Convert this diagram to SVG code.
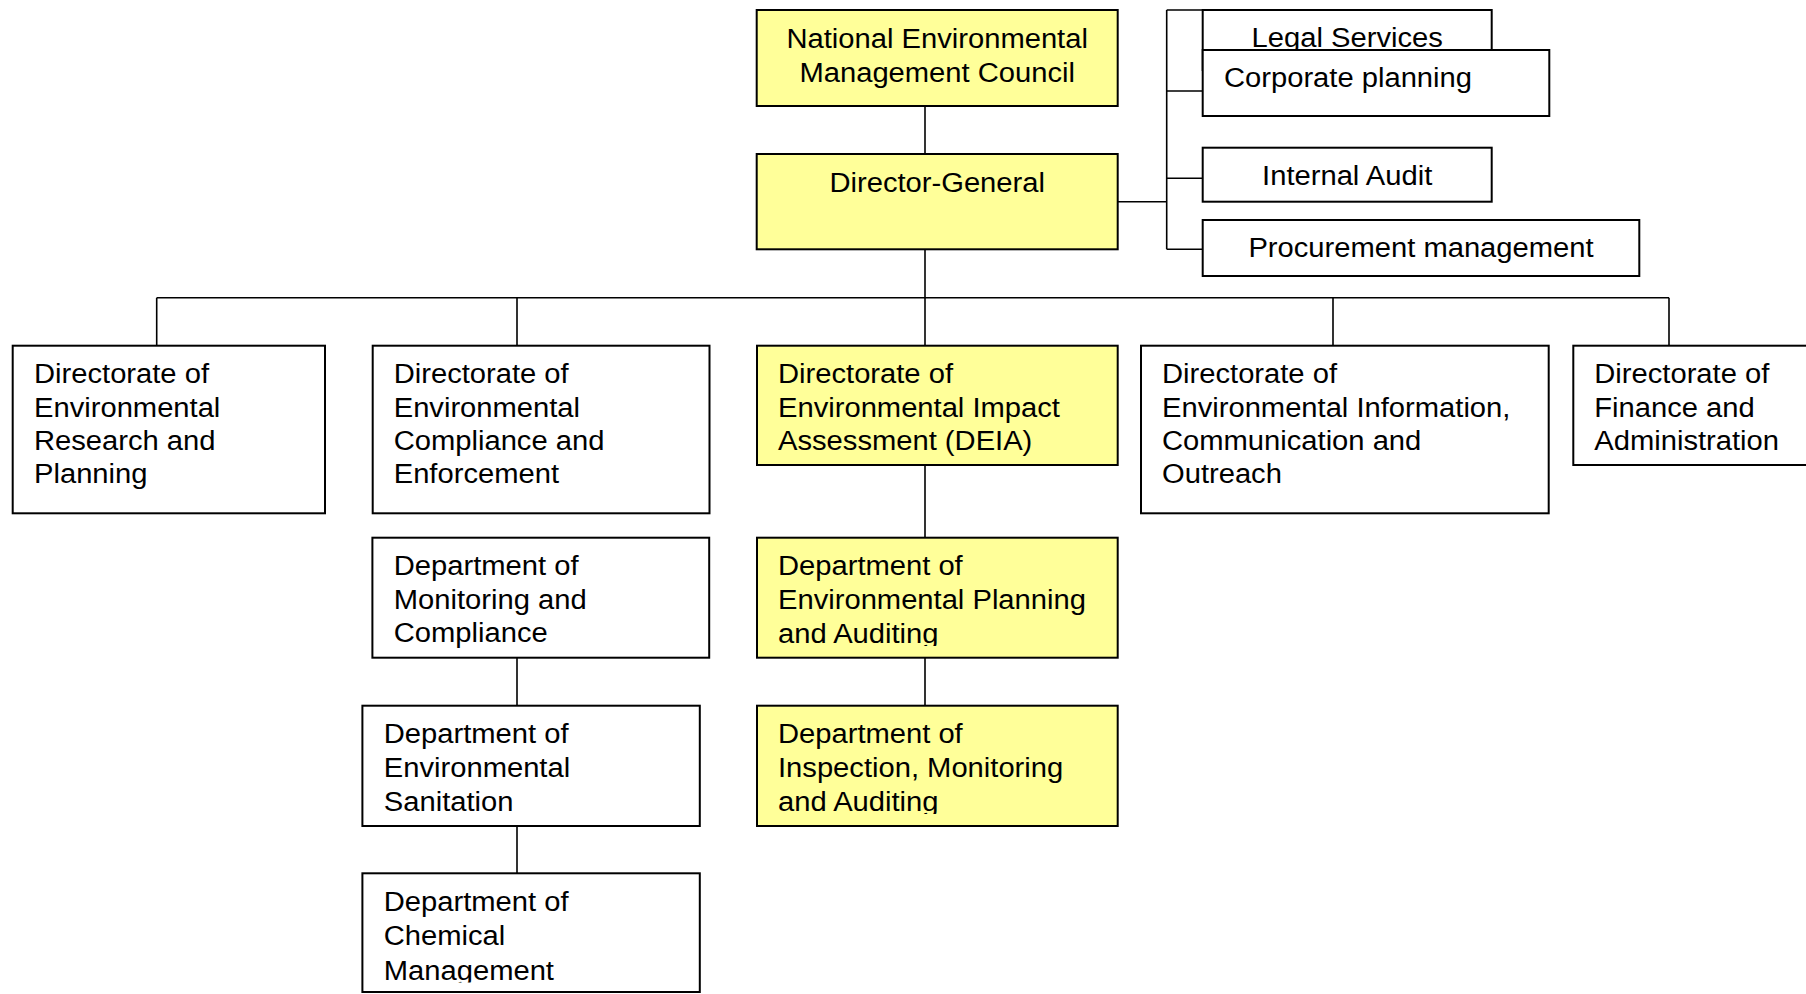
<svg xmlns="http://www.w3.org/2000/svg" width="1806" height="994" viewBox="0 0 1806 994">
  <style>
    .box { fill: #ffffff; stroke: #000000; stroke-width: 2; }
    .hi { fill: #ffff99; stroke: #000000; stroke-width: 2; }
    .lbl { font-family: "Liberation Sans", Arial, sans-serif; font-size: 27px; fill: #000000; }
    .mid { text-anchor: middle; }
    .wire { fill: none; stroke: #000000; stroke-width: 1.6; }
  </style>
  <defs>
    <clipPath id="clipPlan"><rect x="757" y="537" width="361" height="109"/></clipPath>
    <clipPath id="clipInsp"><rect x="757" y="705" width="361" height="109"/></clipPath>
    <clipPath id="clipChem"><rect x="361" y="873" width="340" height="109.5"/></clipPath>
  </defs>
  <rect x="0" y="0" width="1806" height="994" fill="#ffffff"/>

  <!-- connectors -->
  <g id="connectors" class="wire">
    <path d="M925 106 V154"/>
    <path d="M925 249 V346"/>
    <path d="M156.7 297.7 H1669"/>
    <path d="M156.7 297.7 V346 M517 297.7 V346 M1333 297.7 V346 M1669 297.7 V346"/>
    <path d="M1117.7 201.7 H1166.7 M1166.7 10 V249.3"/>
    <path d="M1166.7 10 H1202.7 M1166.7 91 H1202.7 M1166.7 178.3 H1202.7 M1166.7 249.3 H1202.7"/>
    <path d="M925 465 V537.7 M925 657.7 V705.7"/>
    <path d="M517 657.7 V705.7 M517 826 V873.3"/>
  </g>

  <!-- top of the hierarchy -->
  <g id="council">
    <rect class="hi" x="756.7" y="10" width="361" height="96"/>
    <text class="lbl mid" transform="translate(937.2,47.7) scale(1.08,1)"><tspan x="0">National Environmental</tspan><tspan x="0" dy="34">Management Council</tspan></text>
  </g>
  <g id="director-general">
    <rect class="hi" x="756.7" y="154" width="361" height="95.3"/>
    <text class="lbl mid" transform="translate(937.2,191.7) scale(1.08,1)">Director-General</text>
  </g>

  <!-- staff units beside the Director-General -->
  <g id="legal-services">
    <rect class="box" x="1202.7" y="10" width="289" height="60"/>
    <text class="lbl mid" transform="translate(1347.2,47) scale(1.08,1)">Legal Services</text>
  </g>
  <g id="corporate-planning">
    <rect class="box" x="1202.7" y="50" width="346.6" height="66"/>
    <text class="lbl" transform="translate(1224,87.3) scale(1.08,1)">Corporate planning</text>
  </g>
  <g id="internal-audit">
    <rect class="box" x="1202.7" y="147.7" width="289" height="54"/>
    <text class="lbl mid" transform="translate(1347.2,185) scale(1.08,1)">Internal Audit</text>
  </g>
  <g id="procurement">
    <rect class="box" x="1202.7" y="220" width="436.6" height="56"/>
    <text class="lbl mid" transform="translate(1421,256.7) scale(1.08,1)">Procurement management</text>
  </g>

  <!-- directorates -->
  <g id="dir-research">
    <rect class="box" x="12.7" y="345.7" width="312.3" height="167.6"/>
    <text class="lbl" transform="translate(34,383.3) scale(1.08,1)"><tspan x="0">Directorate of</tspan><tspan x="0" dy="33.3">Environmental</tspan><tspan x="0" dy="33.3">Research and</tspan><tspan x="0" dy="33.3">Planning</tspan></text>
  </g>
  <g id="dir-compliance">
    <rect class="box" x="372.7" y="345.7" width="336.8" height="167.6"/>
    <text class="lbl" transform="translate(393.7,383.3) scale(1.08,1)"><tspan x="0">Directorate of</tspan><tspan x="0" dy="33.3">Environmental</tspan><tspan x="0" dy="33.3">Compliance and</tspan><tspan x="0" dy="33.3">Enforcement</tspan></text>
  </g>
  <g id="dir-deia">
    <rect class="hi" x="757" y="345.7" width="360.7" height="119.3"/>
    <text class="lbl" transform="translate(778,383.3) scale(1.08,1)"><tspan x="0">Directorate of</tspan><tspan x="0" dy="33.3">Environmental Impact</tspan><tspan x="0" dy="33.3">Assessment (DEIA)</tspan></text>
  </g>
  <g id="dir-information">
    <rect class="box" x="1141" y="345.7" width="407.7" height="167.6"/>
    <text class="lbl" transform="translate(1162,383.3) scale(1.08,1)"><tspan x="0">Directorate of</tspan><tspan x="0" dy="33.3">Environmental Information,</tspan><tspan x="0" dy="33.3">Communication and</tspan><tspan x="0" dy="33.3">Outreach</tspan></text>
  </g>
  <g id="dir-finance">
    <rect class="box" x="1573.3" y="345.7" width="250" height="119.3"/>
    <text class="lbl" transform="translate(1594.3,383.3) scale(1.08,1)"><tspan x="0">Directorate of</tspan><tspan x="0" dy="33.3">Finance and</tspan><tspan x="0" dy="33.3">Administration</tspan></text>
  </g>

  <!-- departments -->
  <g id="dept-monitoring">
    <rect class="box" x="372.4" y="537.7" width="336.8" height="120"/>
    <text class="lbl" transform="translate(393.8,575) scale(1.08,1)"><tspan x="0">Department of</tspan><tspan x="0" dy="33.7">Monitoring and</tspan><tspan x="0" dy="33.7">Compliance</tspan></text>
  </g>
  <g id="dept-sanitation">
    <rect class="box" x="362.4" y="705.7" width="337.4" height="120.3"/>
    <text class="lbl" transform="translate(383.8,743.3) scale(1.08,1)"><tspan x="0">Department of</tspan><tspan x="0" dy="33.7">Environmental</tspan><tspan x="0" dy="33.7">Sanitation</tspan></text>
  </g>
  <g id="dept-chemical">
    <rect class="box" x="362.4" y="873.3" width="337.4" height="118.7"/>
    <g clip-path="url(#clipChem)">
      <text class="lbl" transform="translate(383.8,911) scale(1.08,1)"><tspan x="0">Department of</tspan><tspan x="0" dy="34.5">Chemical</tspan><tspan x="0" dy="34.5">Management</tspan></text>
    </g>
  </g>
  <g id="dept-planning">
    <rect class="hi" x="757" y="537.7" width="360.7" height="120"/>
    <g clip-path="url(#clipPlan)">
      <text class="lbl" transform="translate(778,575) scale(1.08,1)"><tspan x="0">Department of</tspan><tspan x="0" dy="34.2">Environmental Planning</tspan><tspan x="0" dy="34.2">and Auditing</tspan></text>
    </g>
  </g>
  <g id="dept-inspection">
    <rect class="hi" x="757" y="705.7" width="360.7" height="120.3"/>
    <g clip-path="url(#clipInsp)">
      <text class="lbl" transform="translate(778,743.3) scale(1.08,1)"><tspan x="0">Department of</tspan><tspan x="0" dy="34">Inspection, Monitoring</tspan><tspan x="0" dy="34">and Auditing</tspan></text>
    </g>
  </g>
</svg>
